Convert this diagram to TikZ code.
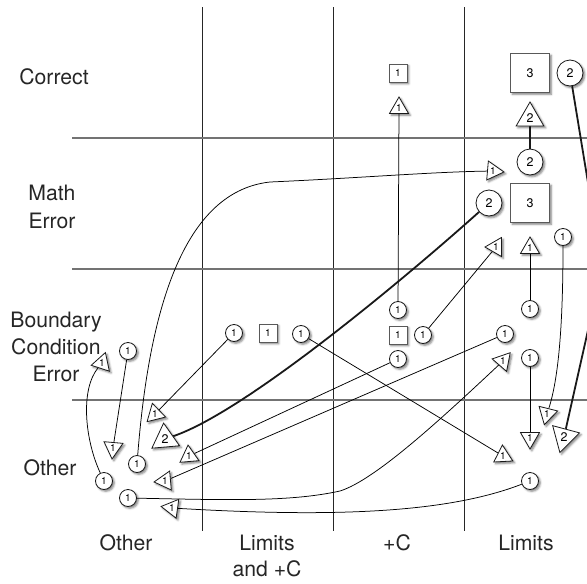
\documentclass[tikz,border=0pt]{standalone}
\usepackage{fontspec}
\setmainfont{TeX Gyre Heros}
\usetikzlibrary{shapes.geometric,shadows.blur}
\pgfdeclarelayer{bg}
\pgfsetlayers{bg,main}
\tikzset{
  shd/.style={blur shadow={shadow xshift=1.8pt, shadow yshift=-1.8pt, shadow blur radius=2pt, shadow opacity=50}},
  cir1/.style={circle, draw=black!90, line width=0.8pt, fill=white, minimum size=17pt, inner sep=0pt, font=\fontsize{10}{10}\selectfont, shd},
  cir2/.style={cir1, minimum size=26pt, font=\fontsize{12.5}{12.5}\selectfont},
  sq1/.style={rectangle, draw=black!65, line width=0.8pt, fill=white, minimum size=18pt, inner sep=0pt, font=\fontsize{10}{10}\selectfont, shd},
  sq3/.style={sq1, minimum size=39pt, font=\fontsize{12.5}{12.5}\selectfont},
  tri1/.style={regular polygon, regular polygon sides=3, draw=black!90, line width=0.8pt, fill=white, minimum size=22pt, inner sep=0pt, font=\fontsize{10}{10}\selectfont, shape border rotate=#1, shd},
  tri1/.default=0,
  tri2/.style={tri1={#1}, minimum size=32pt, font=\fontsize{12.5}{12.5}\selectfont},
  tri2/.default=0,
  lbl/.style={font=\fontsize{21.2}{25}\selectfont, text=black!85, anchor=base, inner sep=0pt},
  conn/.style={line width=0.75pt, draw=black},
  heavy/.style={line width=1.8pt, draw=black!90},
  hline/.style={line width=1.1pt, draw=black!55},
  vline/.style={line width=0.75pt, draw=black!85}
}
\begin{document}
\begin{tikzpicture}[x=1pt,y=-1pt]
\useasboundingbox (0,0) rectangle (587,584);
\clip (0,0) rectangle (587,584);
% labels
\node[lbl] (lcorrect) at (54,84) {Correct};
\node[lbl] (lmath1) at (52,200) {Math};
\node[lbl] (lmath2) at (52,228) {Error};
\node[lbl] (lbc1) at (56,327) {Boundary};
\node[lbl] (lbc2) at (56,354) {Condition};
\node[lbl] (lbc3) at (56,381) {Error};
\node[lbl] (lother) at (50,475) {Other};
\node[lbl] (cother) at (126,550) {Other};
\node[lbl] (climc1) at (267,550) {Limits};
\node[lbl] (climc2) at (267,576) {and +C};
\node[lbl] (cplusc) at (397,550) {+C};
\node[lbl] (climits) at (526,550) {Limits};
% circles 1
\node[cir1] (c1) at (398,310) {1};
\node[cir1] (c2) at (423,335) {1};
\node[cir1] (c3) at (398,359) {1};
\node[cir1] (c4) at (301,334) {1};
\node[cir1] (c5) at (234,333) {1};
\node[cir1] (c6) at (505,334) {1};
\node[cir1] (c7) at (530,358) {1};
\node[cir1] (c8) at (563,237) {1};
\node[cir1] (c9) at (530,481) {1};
\node[cir1] (c10) at (128,351) {1};
\node[cir1] (c11) at (104,481) {1};
\node[cir1] (c12) at (137,464) {1};
\node[cir1] (c13) at (128,498) {1};
\node[cir1] (c14) at (530,309) {1};
% circles 2
\node[cir2] (C1) at (570,73) {2};
\node[cir2] (C2) at (530,162) {2};
\node[cir2] (C3) at (489,203) {2};
% squares
\node[sq1] (s1) at (398,73) {1};
\node[sq1] (s2) at (268,333) {1};
\node[sq1] (s3) at (398,335) {1};
\node[sq3] (S1) at (530,73) {3};
\node[sq3] (S2) at (530,203) {3};
% triangles
\node[tri1=0] (t1) at (399,108) {1};
\node[tri2=0] (tT) at (530,118) {2};
\node[tri1=-95] (t2) at (493,171) {1};
\node[tri1=-30] (t3) at (496,247) {1};
\node[tri1=0] (t4) at (530,248) {1};
\node[tri1=180] (t5) at (530,438) {1};
\node[tri1=46] (t6) at (547,414) {1};
\node[tri2=45] (t7) at (564,437) {2};
\node[tri1=3] (t8) at (503,456) {1};
\node[tri1=-18] (t9) at (102,363) {1};
\node[tri1=175] (t10) at (113,448) {1};
\node[tri1=14] (t11) at (155,414) {1};
\node[tri2=5] (t12) at (165,439) {2};
\node[tri1=5] (t13) at (189,456) {1};
\node[tri1=-25] (t14) at (165,481) {1};
\node[tri1=-41] (t15) at (503,361) {1};
\node[tri1=-38] (t16) at (172,508) {1};
\coordinate (bend) at (602,268);
\begin{pgfonlayer}{bg}
  % grid
  \draw[vline] (202,7) -- (202,531);
  \draw[vline] (333,7) -- (333,531);
  \draw[vline] (464,7) -- (464,531);
  \draw[hline] (72,138) -- (587,138);
  \draw[hline] (72,269) -- (587,269);
  \draw[hline] (72,400) -- (587,400);
  % straight connectors
  \draw[conn] (c1) -- (t1);
  \draw[conn] (c14) -- (t4);
  \draw[conn] (c7) -- (t5);
  \draw[conn] (c2) -- (t3);
  \draw[conn] (c4) -- (t8);
  \draw[conn] (c5) -- (t11);
  \draw[conn] (c10) -- (t10);
  \draw[conn] (c3) -- (t13);
  \draw[conn] (c6) -- (t14);
  \draw[heavy] (C2) -- (tT);
  % curved connectors
  \draw[heavy] (C3) .. controls (420,265) and (250,410) .. (t12);
  \draw[heavy, rounded corners=30pt] (C1) -- (bend) -- (t7);
  \draw[conn] (c12) .. controls (148,325) and (178,192) .. (270,182) .. controls (360,178) and (430,172) .. (t2);
  \draw[conn] (c11) .. controls (85,440) and (80,390) .. (t9);
  \draw[conn] (c13) .. controls (230,500) and (290,502) .. (340,491) .. controls (375,480) and (440,420) .. (t15);
  \draw[conn] (c9) .. controls (450,512) and (340,518) .. (t16);
  \draw[conn] (c8) .. controls (563,330) and (558,380) .. (t6);
\end{pgfonlayer}
\end{tikzpicture}
\end{document}
